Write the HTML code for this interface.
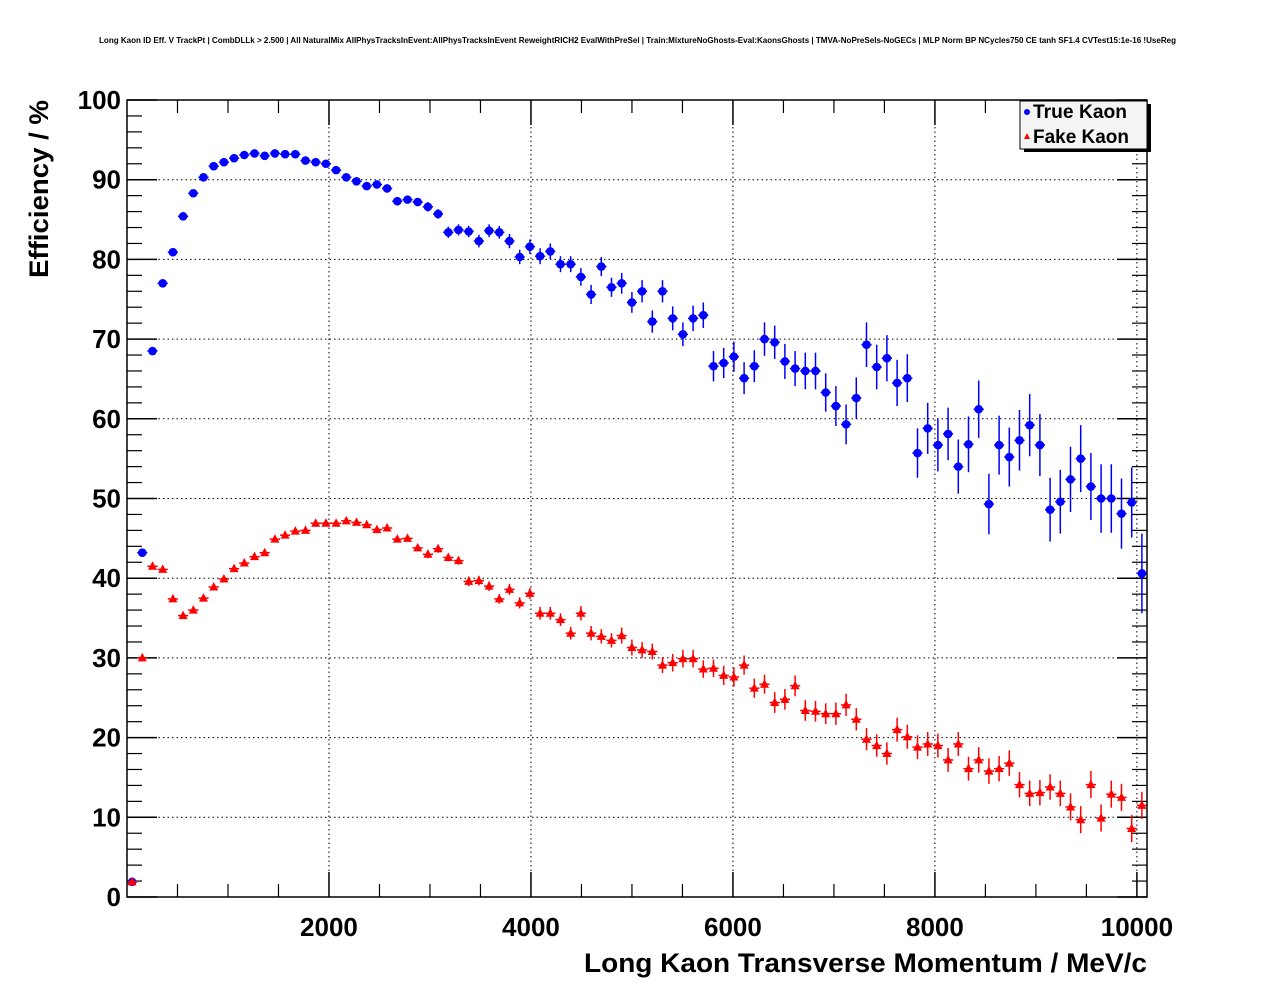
<!DOCTYPE html>
<html><head><meta charset="utf-8">
<style>
html,body{margin:0;padding:0;background:#fff;}
svg{display:block;font-family:"Liberation Sans",Arial,sans-serif;}
</style></head>
<body>
<svg id="chart" width="1276" height="996" viewBox="0 0 1276 996" xmlns="http://www.w3.org/2000/svg">
<rect x="0" y="0" width="1276" height="996" fill="#fff"/>
<text x="99" y="43" font-size="8" font-weight="bold" textLength="1077" lengthAdjust="spacingAndGlyphs">Long Kaon ID Eff. V TrackPt | CombDLLk &gt; 2.500 | All NaturalMix AllPhysTracksInEvent:AllPhysTracksInEvent ReweightRICH2 EvalWithPreSel | Train:MixtureNoGhosts-Eval:KaonsGhosts | TMVA-NoPreSels-NoGECs | MLP Norm BP NCycles750 CE tanh SF1.4 CVTest15:1e-16 !UseReg</text>
<g id="grid"></g>
<g id="axes"></g>
<g id="series-true"></g>
<g id="series-fake"></g>
<rect x="127" y="100" width="1020" height="797" fill="none" stroke="#000" stroke-width="1.5"/>
<text transform="translate(48,278) rotate(-90)" font-size="27" font-weight="bold" textLength="178" lengthAdjust="spacingAndGlyphs">Efficiency / %</text>
<text x="584" y="972" font-size="27" font-weight="bold" textLength="563" lengthAdjust="spacingAndGlyphs">Long Kaon Transverse Momentum / MeV/c</text>
<g>
<rect x="1024" y="104" width="127" height="48" fill="#000"/>
<rect x="1020" y="101" width="127" height="48" fill="#f4f4f4" stroke="#000" stroke-width="1"/>
<circle cx="1027" cy="112" r="3" fill="#0000ff"/>
<text x="1033" y="118" font-size="19" font-weight="bold" textLength="94" lengthAdjust="spacingAndGlyphs">True Kaon</text>
<polygon points="1024,139 1030,139 1027,133" fill="#ff0000"/>
<text x="1033" y="143" font-size="19" font-weight="bold" textLength="96" lengthAdjust="spacingAndGlyphs">Fake Kaon</text>
</g>
</svg>
<script>
const binWidth = 101;
const trueEff = [1.9,43.2,68.5,77.0,80.9,85.4,88.3,90.3,91.7,92.2,92.7,93.1,93.3,93.0,93.3,93.2,93.2,92.4,92.2,92.0,91.2,90.3,89.8,89.2,89.4,88.9,87.3,87.5,87.2,86.6,85.7,83.4,83.7,83.5,82.3,83.6,83.4,82.3,80.3,81.6,80.4,81.0,79.4,79.4,77.8,75.6,79.1,76.5,77.0,74.6,76.0,72.2,76.0,72.6,70.6,72.6,73.0,66.6,67.0,67.8,65.1,66.6,70.0,69.6,67.2,66.3,66.0,66.0,63.3,61.6,59.3,62.6,69.3,66.5,67.6,64.5,65.1,55.7,58.8,56.7,58.1,54.0,56.8,61.2,49.3,56.7,55.2,57.3,59.2,56.7,48.6,49.6,52.4,55.0,51.5,50.0,50.0,48.1,49.5,40.6];
const trueErr = [0.3,0.4,0.4,0.3,0.3,0.3,0.3,0.3,0.3,0.3,0.3,0.3,0.3,0.3,0.3,0.3,0.3,0.3,0.3,0.3,0.4,0.4,0.4,0.4,0.4,0.5,0.5,0.5,0.5,0.6,0.6,0.7,0.7,0.7,0.8,0.8,0.8,0.9,0.9,0.9,1.0,1.0,1.0,1.0,1.1,1.2,1.2,1.2,1.3,1.3,1.4,1.4,1.4,1.5,1.5,1.6,1.6,1.9,1.9,1.9,2.0,2.0,2.1,2.1,2.2,2.2,2.3,2.3,2.4,2.5,2.5,2.6,2.8,2.8,2.9,2.9,3.0,3.1,3.2,3.3,3.3,3.4,3.5,3.6,3.8,3.7,3.7,3.8,3.9,3.9,4.0,4.0,4.1,4.2,4.2,4.3,4.3,4.4,4.4,5.0];
const fakeEff = [1.9,30.0,41.5,41.1,37.4,35.3,36.0,37.5,38.9,39.9,41.2,41.9,42.7,43.2,44.9,45.4,45.9,46.0,46.9,46.9,46.9,47.2,47.0,46.7,46.1,46.3,44.9,45.0,43.8,43.0,43.7,42.6,42.2,39.6,39.7,39.0,37.4,38.6,36.9,38.1,35.6,35.6,34.8,33.1,35.6,33.1,32.7,32.2,32.8,31.3,31.0,30.8,29.1,29.4,29.9,29.9,28.6,28.7,27.8,27.6,29.1,26.2,26.7,24.4,24.8,26.5,23.4,23.3,23.0,23.0,24.1,22.3,19.8,19.0,18.0,21.0,20.1,18.8,19.2,19.0,17.2,19.2,16.1,17.2,15.8,16.1,16.8,14.1,13.0,13.1,13.8,13.0,11.3,9.7,14.1,9.9,12.9,12.5,8.6,11.5];
const fakeErr = [0.2,0.2,0.2,0.2,0.2,0.2,0.2,0.2,0.2,0.2,0.2,0.2,0.3,0.3,0.3,0.3,0.3,0.3,0.3,0.3,0.3,0.3,0.3,0.4,0.4,0.4,0.4,0.4,0.4,0.5,0.5,0.5,0.5,0.6,0.6,0.6,0.6,0.7,0.7,0.7,0.8,0.8,0.8,0.8,0.9,0.9,0.9,0.9,1.0,1.0,1.0,1.0,1.0,1.1,1.1,1.1,1.1,1.1,1.2,1.2,1.2,1.2,1.2,1.3,1.3,1.3,1.3,1.3,1.3,1.4,1.4,1.4,1.4,1.4,1.4,1.5,1.5,1.5,1.5,1.5,1.5,1.5,1.5,1.6,1.6,1.6,1.6,1.6,1.6,1.6,1.6,1.6,1.7,1.7,1.7,1.7,1.7,1.7,1.7,1.7];
const xTickLabels = [2000,4000,6000,8000,10000];
const yTickLabels = [0,10,20,30,40,50,60,70,80,90,100];

const NS = "http://www.w3.org/2000/svg";
const X0 = 127, X1 = 1147, Y0 = 897, Y1 = 100;
const xMax = binWidth * trueEff.length;
function xs(v){ return X0 + (v / xMax) * (X1 - X0); }
function ys(v){ return Y0 - (v / 100) * (Y0 - Y1); }
function mk(tag, attrs, parent){
  const e = document.createElementNS(NS, tag);
  for (const k in attrs) e.setAttribute(k, attrs[k]);
  parent.appendChild(e);
  return e;
}
const grid = document.getElementById('grid');
const axes = document.getElementById('axes');
yTickLabels.forEach(v => {
  const y = ys(v);
  if (v > 0 && v < 100) {
    const g = mk('line', {x1:X0, x2:X1, y1:y, y2:y, stroke:'#000', 'stroke-width':1, 'stroke-dasharray':'1.5,3'}, grid);
    
    
  }
  mk('line', {x1:X0, x2:X0+30, y1:y, y2:y, stroke:'#000', 'stroke-width':1.5}, axes);
  mk('line', {x1:X1-30, x2:X1, y1:y, y2:y, stroke:'#000', 'stroke-width':1.5}, axes);
  const t = mk('text', {x:X0-6, y:y+9, 'font-size':26, 'font-weight':'bold', 'text-anchor':'end'}, axes);
  t.textContent = v;
  
  
});
for (let v = 0; v <= 100; v += 2) {
  if (v % 10 === 0) continue;
  const y = ys(v);
  mk('line', {x1:X0, x2:X0+15, y1:y, y2:y, stroke:'#000', 'stroke-width':1.2}, axes);
  mk('line', {x1:X1-15, x2:X1, y1:y, y2:y, stroke:'#000', 'stroke-width':1.2}, axes);
}
xTickLabels.forEach(v => {
  const x = xs(v);
  const g = mk('line', {x1:x, x2:x, y1:Y1, y2:Y0, stroke:'#000', 'stroke-width':1, 'stroke-dasharray':'1.5,3'}, grid);
  
  
  mk('line', {x1:x, x2:x, y1:Y0, y2:Y0-25, stroke:'#000', 'stroke-width':1.5}, axes);
  mk('line', {x1:x, x2:x, y1:Y1, y2:Y1+25, stroke:'#000', 'stroke-width':1.5}, axes);
  const t = mk('text', {x:x, y:936, 'font-size':26, 'font-weight':'bold', 'text-anchor':'middle'}, axes);
  t.textContent = v;
  
  
});
for (let v = 500; v <= 10000; v += 500) {
  if (v % 2000 === 0) continue;
  const x = xs(v);
  mk('line', {x1:x, x2:x, y1:Y0, y2:Y0-13, stroke:'#000', 'stroke-width':1.2}, axes);
  mk('line', {x1:x, x2:x, y1:Y1, y2:Y1+13, stroke:'#000', 'stroke-width':1.2}, axes);
}
function drawSeries(vals, errs, color, gid, kind){
  const g = document.getElementById(gid);
  vals.forEach((v, i) => {
    const xc = xs(binWidth * (i + 0.5));
    const xl = xs(binWidth * i), xr = xs(binWidth * (i + 1));
    const y = ys(v);
    const grp = mk('g', {}, g);
    
    
    mk('line', {x1:xl, x2:xr, y1:y, y2:y, stroke:color, 'stroke-width':1.5}, grp);
    mk('line', {x1:xc, x2:xc, y1:ys(v - errs[i]), y2:ys(v + errs[i]), stroke:color, 'stroke-width':1.5}, grp);
    if (kind === 'true') {
      mk('circle', {cx:xc, cy:y, r:4.3, fill:color}, grp);
    } else {
      mk('polygon', {points:(xc-4.5)+','+(y+3.5)+' '+(xc+4.5)+','+(y+3.5)+' '+xc+','+(y-5)}, grp).setAttribute('fill', color);
    }
  });
}
drawSeries(trueEff, trueErr, '#0000ff', 'series-true', 'true');
drawSeries(fakeEff, fakeErr, '#ff0000', 'series-fake', 'fake');
</script>
</body></html>
